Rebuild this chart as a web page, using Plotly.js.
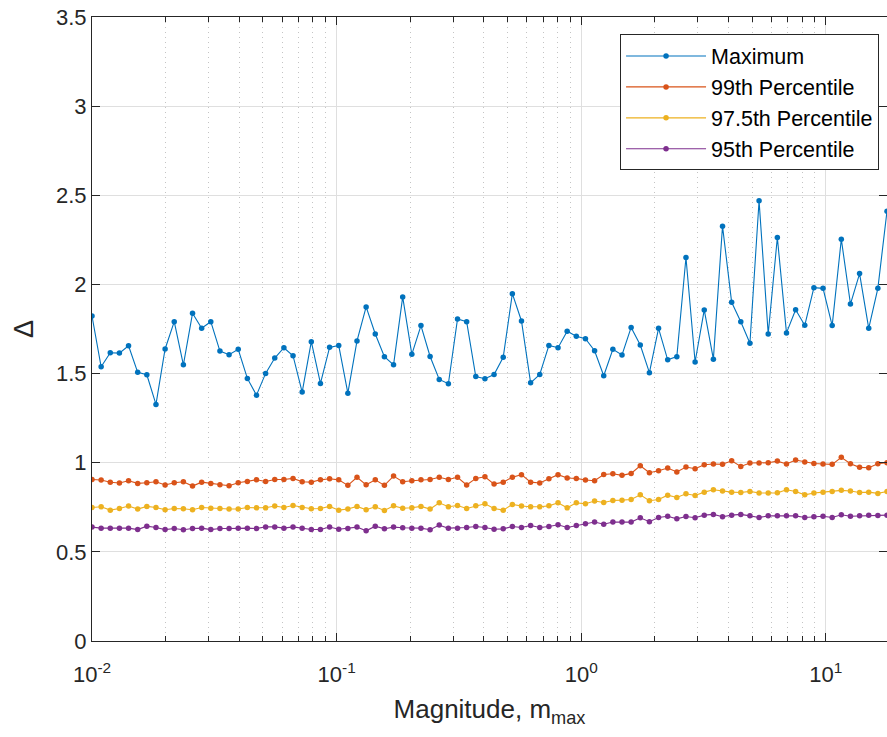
<!DOCTYPE html>
<html>
<head>
<meta charset="utf-8">
<script src="https://cdn.plot.ly/plotly-3.0.1.min.js"></script>
<style>html,body{margin:0;padding:0;background:#fff;}#chart{width:887px;height:737px;}</style>
</head>
<body>
<div id="chart"></div>
<script>
// Magnitude values (x), evenly spaced on log axis
const magnitude = [
0.01, 0.010898, 0.011877, 0.012944, 0.014107, 0.015374, 0.016755, 0.018260, 0.019900, 0.021687,
0.023635, 0.025759, 0.028072, 0.030594, 0.033342, 0.036337, 0.039601, 0.043158, 0.047034, 0.051259,
0.055863, 0.060881, 0.066350, 0.072309, 0.078805, 0.085883, 0.093597, 0.10200, 0.11117, 0.12115,
0.13204, 0.14390, 0.15682, 0.17091, 0.18626, 0.20299, 0.22122, 0.24109, 0.26275, 0.28635,
0.31207, 0.34010, 0.37065, 0.40394, 0.44023, 0.47977, 0.52287, 0.56983, 0.62102, 0.67680,
0.73759, 0.80384, 0.87605, 0.95474, 1.0405, 1.1340, 1.2358, 1.3468, 1.4678, 1.5996,
1.7433, 1.8999, 2.0706, 2.2566, 2.4593, 2.6802, 2.9209, 3.1833, 3.4692, 3.7808,
4.1204, 4.4905, 4.8939, 5.3335, 5.8126, 6.3347, 6.9037, 7.5238, 8.1996, 8.9361,
9.7388, 10.614, 11.567, 12.606, 13.738, 14.972, 16.317, 17.783];

const maximum = [
1.823, 1.538, 1.617, 1.615, 1.656, 1.507, 1.493, 1.327, 1.638, 1.791,
1.549, 1.838, 1.754, 1.791, 1.626, 1.606, 1.636, 1.473, 1.379, 1.501,
1.587, 1.645, 1.600, 1.396, 1.679, 1.445, 1.647, 1.658, 1.390, 1.683,
1.874, 1.722, 1.595, 1.549, 1.930, 1.608, 1.769, 1.596, 1.467, 1.443,
1.806, 1.791, 1.483, 1.471, 1.495, 1.591, 1.948, 1.795, 1.448, 1.495,
1.658, 1.645, 1.737, 1.709, 1.696, 1.628, 1.488, 1.636, 1.604, 1.759,
1.660, 1.505, 1.754, 1.577, 1.595, 2.151, 1.565, 1.857, 1.581, 2.327,
1.900, 1.791, 1.670, 2.469, 1.722, 2.263, 1.728, 1.858, 1.771, 1.982,
1.978, 1.769, 2.254, 1.890, 2.061, 1.754, 1.978, 2.411];

const p99 = [
0.906, 0.903, 0.890, 0.886, 0.899, 0.884, 0.888, 0.893, 0.875, 0.888,
0.893, 0.869, 0.891, 0.884, 0.876, 0.871, 0.888, 0.895, 0.904, 0.895,
0.906, 0.906, 0.912, 0.893, 0.891, 0.904, 0.910, 0.904, 0.873,
0.918, 0.876, 0.904, 0.873, 0.925, 0.893, 0.899, 0.904, 0.906, 0.918,
0.906, 0.918, 0.875, 0.912, 0.921, 0.880, 0.891, 0.919, 0.933, 0.891,
0.886, 0.910, 0.933, 0.914, 0.912, 0.903, 0.899, 0.934, 0.938,
0.929, 0.940, 0.983, 0.944, 0.955, 0.970, 0.948, 0.976, 0.966, 0.989,
0.993, 0.991, 1.011, 0.979, 0.998, 0.998, 1.000, 1.009, 0.993, 1.015,
1.004, 0.996, 0.993, 0.991, 1.030, 0.994, 0.974, 0.972, 0.994, 1.000];

const p975 = [
0.749, 0.753, 0.734, 0.743, 0.757, 0.740, 0.755, 0.749, 0.736, 0.743,
0.742, 0.736, 0.749, 0.745, 0.743, 0.740, 0.740, 0.749, 0.747, 0.747,
0.757, 0.749, 0.760, 0.749, 0.742, 0.743, 0.755, 0.734, 0.740,
0.755, 0.736, 0.753, 0.732, 0.758, 0.745, 0.747, 0.755, 0.740, 0.775,
0.753, 0.760, 0.743, 0.758, 0.770, 0.743, 0.734, 0.766, 0.757, 0.753,
0.753, 0.758, 0.775, 0.747, 0.775, 0.770, 0.785, 0.777, 0.788,
0.790, 0.794, 0.820, 0.787, 0.794, 0.818, 0.805, 0.826, 0.816, 0.835,
0.848, 0.841, 0.835, 0.833, 0.839, 0.830, 0.830, 0.831, 0.848, 0.839,
0.820, 0.830, 0.835, 0.839, 0.845, 0.841, 0.833, 0.835, 0.828, 0.839];

const p95 = [
0.639, 0.633, 0.633, 0.633, 0.633, 0.625, 0.644, 0.637, 0.625, 0.631,
0.624, 0.631, 0.633, 0.625, 0.631, 0.631, 0.633, 0.633, 0.631, 0.640,
0.640, 0.633, 0.640, 0.633, 0.625, 0.625, 0.639, 0.627, 0.631,
0.639, 0.618, 0.644, 0.629, 0.639, 0.635, 0.633, 0.633, 0.624, 0.650,
0.633, 0.633, 0.637, 0.642, 0.637, 0.627, 0.629, 0.642, 0.637, 0.648,
0.637, 0.642, 0.652, 0.637, 0.648, 0.657, 0.667, 0.655, 0.667,
0.667, 0.667, 0.691, 0.669, 0.693, 0.700, 0.685, 0.698, 0.691, 0.706,
0.710, 0.697, 0.706, 0.710, 0.702, 0.693, 0.702, 0.702, 0.702, 0.702,
0.693, 0.697, 0.700, 0.693, 0.708, 0.700, 0.702, 0.706, 0.704, 0.706];

const seriesNames = ['Maximum', '99th Percentile', '97.5th Percentile', '95th Percentile'];
const seriesColors = ['#0072BD', '#D95319', '#EDB120', '#7E2F8E'];
const xTickVals = [0.01, 0.1, 1, 10];
const xTickText = ['10<sup>-2</sup>', '10<sup>-1</sup>', '10<sup>0</sup>', '10<sup>1</sup>'];
const yTickVals = [0, 0.5, 1, 1.5, 2, 2.5, 3, 3.5];
const yTickText = ['0', '0.5', '1', '1.5', '2', '2.5', '3', '3.5'];

const minorVals = [];
[0.01, 0.1, 1, 10].forEach(d => { for (let k = 2; k <= 9; k++) minorVals.push(d * k); });

const seriesY = [maximum, p99, p975, p95];
const traces = seriesY.map((ys, i) => ({
  x: magnitude, y: ys, name: seriesNames[i], type: 'scatter', mode: 'lines+markers',
  line: {color: seriesColors[i], width: 1.1},
  marker: {color: seriesColors[i], size: 5.5}
}));

const fam = 'Liberation Sans, Arial, sans-serif';
const layout = {
  width: 887, height: 737,
  margin: {l: 92, r: 0, t: 17, b: 96},
  paper_bgcolor: '#fff', plot_bgcolor: '#fff',
  font: {family: fam, size: 22, color: '#262626'},
  showlegend: true,
  legend: {x: 0.99, xanchor: 'right', y: 0.972, yanchor: 'top', bgcolor: '#fff',
           bordercolor: '#262626', borderwidth: 1, font: {family: fam, size: 21.5, color: '#000'},
           itemwidth: 80, tracegroupgap: 0},
  xaxis: {
    type: 'log', range: [-2, 1.25], tickmode: 'array', tickvals: xTickVals, ticktext: xTickText,
    showline: true, linecolor: '#262626', linewidth: 1, mirror: 'allticks',
    ticks: 'inside', ticklen: 8, tickcolor: '#262626', ticklabelstandoff: 14,
    showgrid: true, gridcolor: '#dfdfdf', gridwidth: 1, zeroline: false,
    minor: {tickmode: 'array', tickvals: minorVals, ticks: 'inside', ticklen: 5, tickcolor: '#262626',
            showgrid: true, gridcolor: '#c4c4c4', griddash: '1px,4px', gridwidth: 1},
    title: {text: 'Magnitude, m<sub>max</sub>', font: {family: fam, size: 26, color: '#262626'}, standoff: 13},
    tickfont: {family: fam, size: 22, color: '#262626'}
  },
  yaxis: {
    range: [0, 3.5], tickmode: 'array', tickvals: yTickVals, ticktext: yTickText,
    showline: true, linecolor: '#262626', linewidth: 1, mirror: 'ticks',
    ticks: 'inside', ticklen: 8, tickcolor: '#262626',
    showgrid: true, gridcolor: '#dfdfdf', gridwidth: 1, zeroline: false,
    title: {text: 'Δ', font: {family: fam, size: 27, color: '#262626'}, standoff: 14},
    tickfont: {family: fam, size: 22, color: '#262626'}
  }
};

Plotly.newPlot('chart', traces, layout, {displayModeBar: false, staticPlot: true});
</script>
</body>
</html>
